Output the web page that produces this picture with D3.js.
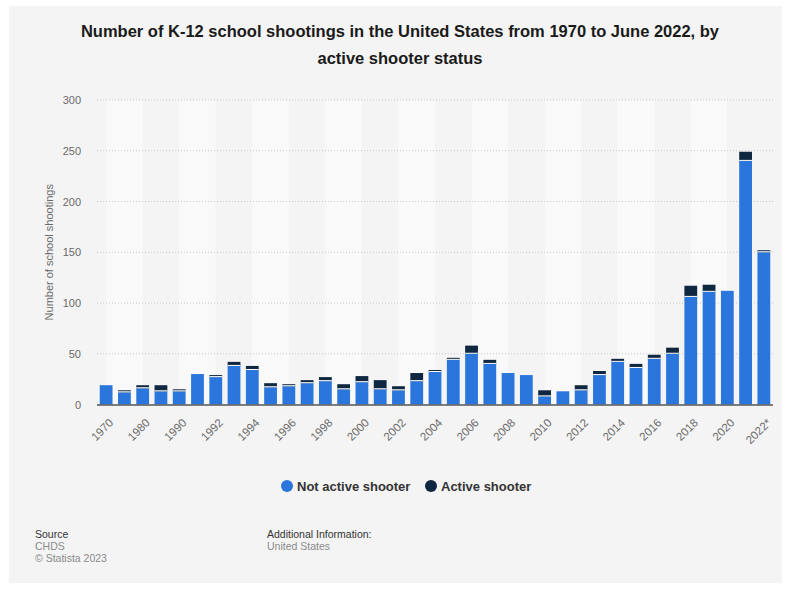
<!DOCTYPE html>
<html>
<head>
<meta charset="utf-8">
<script src="https://cdn.jsdelivr.net/npm/d3@7"></script>
<style>
  html, body { margin: 0; padding: 0; background: #ffffff; }
  svg { display: block; font-family: "Liberation Sans", Arial, sans-serif; }
</style>
</head>
<body>
<svg id="chart" width="791" height="590"></svg>
<script>
// Years (grouped early periods, then annual; 2022 is partial)
const years = ["1970", "1975", "1980", "1985", "1990", "1991", "1992", "1993", "1994", "1995",
  "1996", "1997", "1998", "1999", "2000", "2001", "2002", "2003", "2004", "2005",
  "2006", "2007", "2008", "2009", "2010", "2011", "2012", "2013", "2014", "2015",
  "2016", "2017", "2018", "2019", "2020", "2021", "2022*"];

// Shootings not involving an active shooter
const notActive = [19, 12, 16, 13, 13, 30, 27, 38, 34, 17,
  18, 21, 23, 15, 22, 15, 14, 23, 32, 44,
  50, 40, 31, 29, 8, 13, 14, 29, 42, 36,
  45, 50, 106, 111, 112, 240, 150];

// Active shooter incidents
const active = [0, 2, 3, 6, 2, 0, 2, 4, 4, 4,
  2, 3, 4, 5, 6, 9, 4, 8, 2, 2,
  8, 4, 0, 0, 6, 0, 5, 4, 3, 4,
  4, 6, 11, 7, 0, 9, 2];

const yTicks = [0, 50, 100, 150, 200, 250, 300];
const seriesNames = ["Not active shooter", "Active shooter"];
const colors = ["#2a76dd", "#0f2740"];

const svg = d3.select("#chart");

// card background
svg.append("rect").attr("x", 9).attr("y", 6).attr("width", 773).attr("height", 577)
  .attr("fill", "#f4f4f4");

// title
const title = svg.append("text").attr("x", 400).attr("y", 37)
  .attr("text-anchor", "middle").attr("font-size", 16.5).attr("font-weight", "bold")
  .attr("fill", "#1a1a1a");
title.append("tspan").attr("x", 400).attr("dy", 0)
  .text("Number of K-12 school shootings in the United States from 1970 to June 2022, by");
title.append("tspan").attr("x", 400).attr("dy", 27).text("active shooter status");

const margin = { left: 97, right: 773, top: 100, bottom: 404.5 };

const x = d3.scaleBand().domain(years).range([margin.left, margin.right]).paddingInner(0.3).paddingOuter(0.15);
const y = d3.scaleLinear().domain([0, 300]).range([margin.bottom, margin.top]);

const center = d => x(d) + x.bandwidth() / 2;

// alternating column bands between labelled years
const bandGroup = svg.append("g");
for (let i = 0; i + 2 < years.length; i += 4) {
  const x0 = center(years[i]);
  const x1 = center(years[i + 2]);
  bandGroup.append("rect").attr("x", x0).attr("y", margin.top)
    .attr("width", x1 - x0).attr("height", margin.bottom - margin.top)
    .attr("fill", "#f9f9f9");
}

// gridlines
svg.append("g").selectAll("line").data(yTicks.filter(t => t > 0)).join("line")
  .attr("x1", margin.left).attr("x2", margin.right)
  .attr("y1", d => y(d)).attr("y2", d => y(d))
  .attr("stroke", "#c8c8c8").attr("stroke-width", 1).attr("stroke-dasharray", "1,2");

// y axis
const yAxis = d3.axisLeft(y).tickValues(yTicks).tickSize(0).tickPadding(16);
const yg = svg.append("g").attr("transform", `translate(${margin.left},0)`).call(yAxis);
yg.select(".domain").remove();
yg.selectAll("text").attr("font-size", 11).attr("fill", "#6a6a6a")
  .attr("font-family", "Liberation Sans, Arial, sans-serif");

svg.append("text")
  .attr("transform", `translate(53,${(margin.top + margin.bottom) / 2}) rotate(-90)`)
  .attr("text-anchor", "middle").attr("font-size", 11).attr("fill", "#6a6a6a")
  .text("Number of school shootings");

// stacked bars
const stackData = years.map((yr, i) => ({ year: yr, notActive: notActive[i], active: active[i] }));
const stack = d3.stack().keys(["notActive", "active"])(stackData);

const barGroup = svg.append("g");
stack.forEach((layer, li) => {
  barGroup.append("g").attr("fill", colors[li]).selectAll("rect")
    .data(layer.filter(d => d[1] - d[0] > 0)).join("rect")
    .attr("x", d => x(d.data.year))
    .attr("width", x.bandwidth())
    .attr("y", d => y(d[1]))
    .attr("height", d => y(d[0]) - y(d[1]));
});
// thin white separator between the two segments
barGroup.append("g").selectAll("line")
  .data(stackData.filter(d => d.active > 0)).join("line")
  .attr("x1", d => x(d.year)).attr("x2", d => x(d.year) + x.bandwidth())
  .attr("y1", d => y(d.notActive) - 0.5).attr("y2", d => y(d.notActive) - 0.5)
  .attr("stroke", "#ffffff").attr("stroke-width", 1);

// baseline
svg.append("line").attr("x1", margin.left).attr("x2", margin.right)
  .attr("y1", y(0) + 0.5).attr("y2", y(0) + 0.5)
  .attr("stroke", "#555555").attr("stroke-width", 1.5);

// x axis labels (every other year)
const xAxis = d3.axisBottom(x).tickValues(years.filter((d, i) => i % 2 === 0)).tickSize(0);
const xg = svg.append("g").attr("transform", `translate(0,${margin.bottom})`).call(xAxis);
xg.select(".domain").remove();
xg.selectAll("text").attr("font-size", 11.5).attr("fill", "#6a6a6a")
  .attr("font-family", "Liberation Sans, Arial, sans-serif")
  .attr("text-anchor", "end")
  .attr("transform", "translate(3,14) rotate(-45)")
  .attr("dy", "0.35em");

// legend
const legend = svg.append("g").attr("transform", "translate(0,486)");
const legendItems = [{ x: 287, name: seriesNames[0], color: colors[0] },
                     { x: 431, name: seriesNames[1], color: colors[1] }];
legendItems.forEach(it => {
  legend.append("circle").attr("cx", it.x).attr("cy", 0).attr("r", 6).attr("fill", it.color);
  legend.append("text").attr("x", it.x + 10).attr("y", 4.5).attr("font-size", 13)
    .attr("font-weight", "bold").attr("fill", "#333333").text(it.name);
});

// footer
const foot = svg.append("g").attr("font-size", 10.5);
foot.append("text").attr("x", 35).attr("y", 538).attr("fill", "#333").text("Source");
foot.append("text").attr("x", 35).attr("y", 550).attr("fill", "#8a8a8a").text("CHDS");
foot.append("text").attr("x", 35).attr("y", 562).attr("fill", "#8a8a8a").text("© Statista 2023");
foot.append("text").attr("x", 267).attr("y", 538).attr("fill", "#333").text("Additional Information:");
foot.append("text").attr("x", 267).attr("y", 550).attr("fill", "#8a8a8a").text("United States");
</script>
</body>
</html>
